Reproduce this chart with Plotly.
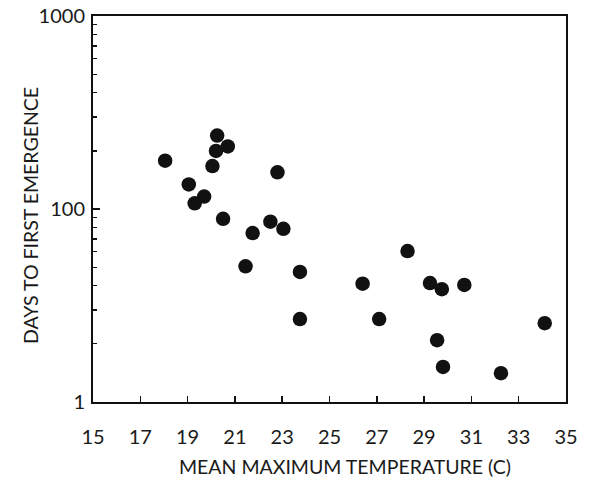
import plotly.graph_objects as go

# Mean maximum temperature (C) and days to first emergence
temperature = [18.05, 19.05, 19.3, 19.7, 20.05, 20.2, 20.25, 20.7, 20.5, 22.8,
               21.75, 22.5, 23.05, 21.45, 23.75, 23.75, 26.4, 27.1, 28.3, 29.25,
               29.75, 30.7, 29.55, 29.8, 32.25, 34.1]
days = [178, 134, 107, 116, 167, 200, 240, 211, 89, 155,
        75, 86, 79, 50.5, 47.2, 26.9, 41, 26.9, 60.5, 41.3,
        38.4, 40.4, 20.9, 15.2, 14.1, 25.6]

x_ticks = [15, 17, 19, 21, 23, 25, 27, 29, 31, 33, 35]
y_tickvals = [10, 100, 1000]
y_ticktext = ["1", "100", "1000"]
y_minor = [20, 30, 40, 50, 60, 70, 80, 90, 200, 300, 400, 500, 600, 700, 800, 900]

x_title = "MEAN MAXIMUM TEMPERATURE (C)"
y_title = "DAYS TO FIRST EMERGENCE"

FONT = "Lato"
INK = "#1a1a1a"

fig = go.Figure(go.Scatter(
    x=temperature, y=days, mode="markers",
    marker=dict(size=14.5, color="#111111", line=dict(width=0)),
    showlegend=False, hoverinfo="skip",
))

fig.update_layout(
    width=615, height=484,
    margin=dict(l=93, r=49, t=16, b=82, autoexpand=False),
    paper_bgcolor="white", plot_bgcolor="white",
    font=dict(family=FONT, color=INK, size=17),
)

fig.update_xaxes(
    range=[15, 35], tickvals=x_ticks, ticktext=[str(v) for v in x_ticks],
    ticks="inside", ticklen=6, tickwidth=1.5, tickcolor="#111",
    showline=True, linecolor="#111", linewidth=2, mirror=True,
    showgrid=False, zeroline=False, automargin=False,
    tickfont=dict(size=20), ticklabelstandoff=16, ticklabeloverflow="allow",
)

fig.update_yaxes(
    type="log", range=[1, 3], tickvals=y_tickvals, ticktext=y_ticktext,
    ticks="inside", ticklen=7, tickwidth=1.5, tickcolor="#111",
    minor=dict(tickvals=y_minor, ticks="inside", ticklen=4, tickwidth=1.2, tickcolor="#111", showgrid=False),
    showline=True, linecolor="#111", linewidth=2, mirror=True,
    showgrid=False, zeroline=False, automargin=False,
    tickfont=dict(size=20), ticklabelstandoff=2, ticklabeloverflow="allow",
)

fig.add_annotation(
    text=x_title, xref="paper", yref="paper", x=0.5, y=0,
    xanchor="center", yanchor="middle", xshift=15, yshift=-64,
    showarrow=False, font=dict(size=19.5, family=FONT, color=INK),
)
fig.add_annotation(
    text=y_title, xref="paper", yref="paper", x=0, y=0.5,
    xanchor="center", yanchor="middle", xshift=-63, yshift=-7,
    textangle=-90, showarrow=False, font=dict(size=19.5, family=FONT, color=INK),
)

# remove the default 8px page margin so the figure fills the window exactly
fig.write_html(
    "out.html",
    config={"displayModeBar": False, "staticPlot": True},
    post_script="document.body.style.margin='0';",
)
